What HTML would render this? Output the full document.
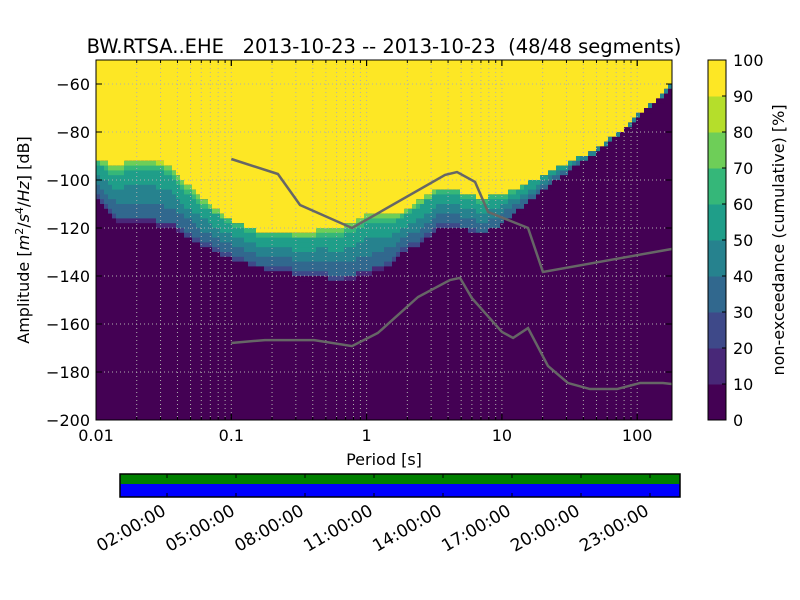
<!DOCTYPE html>
<html><head><meta charset="utf-8"><style>
html,body{margin:0;padding:0;background:#fff;}
svg{display:block;font-family:"DejaVu Sans","Liberation Sans",sans-serif;}
</style></head><body>
<svg id="chart" width="800" height="600" viewBox="0 0 800 600" xmlns="http://www.w3.org/2000/svg">
<text x="384" y="53" font-size="19.5" text-anchor="middle" xml:space="preserve">BW.RTSA..EHE   2013-10-23 -- 2013-10-23  (48/48 segments)</text>
<g id="heat"></g>
<g id="grid"></g>
<g id="lines"></g>
<rect x="96" y="60" width="576" height="360" fill="none" stroke="#000" stroke-width="1"/>
<g id="axes"></g>
<text x="384" y="465" font-size="16" text-anchor="middle">Period [s]</text>
<text transform="translate(29,240) rotate(-90)" font-size="16" text-anchor="middle">Amplitude [<tspan font-style="italic">m</tspan><tspan font-size="11" dy="-6">2</tspan><tspan dy="6">/</tspan><tspan font-style="italic">s</tspan><tspan font-size="11" dy="-6">4</tspan><tspan dy="6">/</tspan><tspan font-style="italic">Hz</tspan>] [dB]</text>
<g id="cbar"></g>
<text transform="translate(784,240) rotate(-90)" font-size="16" text-anchor="middle">non-exceedance (cumulative) [%]</text>
<g id="timeline"></g>
</svg>
<script>
const colPeriods=[0.01,0.0146,0.0211,0.0324,0.0418,0.0587,0.098,0.163,0.322,0.636,0.973,1.49,1.77,2.48,3.49,4.9,6.89,9.68,13.6,19.1,26.9,37.8,53.1,74.6,105,147,169,180];
const colHi=[-92,-94,-91,-93,-98.7,-107,-116.7,-121.7,-122,-119.6,-115,-114,-115,-108,-103,-105,-107.5,-106,-103,-99,-94.5,-90.4,-86,-80,-72,-65.4,-60.4,-59];
const colLo=[-109,-119.6,-119.6,-121.7,-123.7,-129,-134.6,-138.7,-141.7,-143.7,-142.5,-138,-132.5,-129,-122,-122,-124,-121,-114,-107,-101,-94.5,-89.6,-83,-75,-68,-65,-64];
const upPeriods=[0.1,0.221,0.322,0.78,3.8,4.66,6.33,7.9,15.6,20.1,180];
const upDb=[-91.25,-97.5,-110.4,-120,-97.9,-96.7,-100.8,-113.3,-120,-138.3,-128.75];
const lowPeriods=[0.1,0.177,0.41,0.78,1.21,2.4,4.13,4.9,6.0,10,12.1,15.6,21.9,30.8,44.8,71,105,155,180];
const lowDb=[-167.9,-166.7,-166.7,-169.2,-163.75,-148.75,-141.7,-140.8,-149.2,-163.3,-165.8,-161.7,-177.5,-184.6,-187.1,-187.1,-184.6,-184.6,-185];
const yTicks=[-200,-180,-160,-140,-120,-100,-80,-60];
const xTicks=[0.01,0.1,1,10,100];
const xTickLabels=["0.01","0.1","1","10","100"];
const cbTicks=[0,10,20,30,40,50,60,70,80,90,100];
const timeTicks=["02:00:00","05:00:00","08:00:00","11:00:00","14:00:00","17:00:00","20:00:00","23:00:00"];
const timeTickHours=[2,5,8,11,14,17,20,23];
const viridis=["#440154","#482878","#3e4989","#31688e","#26828e","#1f9e89","#35b779","#6ece58","#b5de2b","#fde725"];
const NS="http://www.w3.org/2000/svg";
const X0=96,X1=672,Y0=60,Y1=420;
const xs=p=>X0+(Math.log10(p)+2)*135.3;
const ys=d=>Y0+(-50-d)*2.4;
function mk(tag,attrs,parent){const e=document.createElementNS(NS,tag);for(const k in attrs)e.setAttribute(k,attrs[k]);parent.appendChild(e);return e;}
function pctColor(p){return viridis[Math.min(9,Math.max(0,Math.floor(p/10)))];}
const heat=document.getElementById('heat');
const bg=mk('rect',{x:X0,y:Y0,width:X1-X0,height:Y1-Y0,fill:viridis[0]},heat);


const cx=colPeriods.map(xs);
function interp(x,arr){for(let i=0;i<cx.length-1;i++){if(x<=cx[i+1]){const t=(x-cx[i])/(cx[i+1]-cx[i]);return arr[i]+t*(arr[i+1]-arr[i]);}}return arr[arr.length-1];}
const SW=4,DB=2;
for(let x=X0;x<X1;x+=SW){
  const xc=x+SW/2;
  let hi=interp(xc,colHi),lo=interp(xc,colLo);
  hi=Math.round(hi/DB)*DB;lo=Math.round(lo/DB)*DB;
  const top=mk('rect',{x:x,y:Y0,width:SW+0.5,height:Math.max(0,ys(hi)-Y0),fill:viridis[9]},heat);
  
  
  for(let d=hi-DB;d>=lo;d-=DB){
    const t=(d-lo)/(hi-lo);
    let p;
    if(t<0.12)p=t/0.12*30;else if(t<0.86)p=30+(t-0.12)/0.74*32;else p=62+(t-0.86)/0.14*36;
    const r=mk('rect',{x:x,y:ys(d+DB),width:SW+0.5,height:DB*2.4+0.5,fill:pctColor(p)},heat);
    
    
  }
}
const grid=document.getElementById('grid');
const gx=[];
for(let e=-2;e<=2;e++)for(let m=1;m<10;m++){const v=m*Math.pow(10,e);if(xs(v)>X0+0.5&&xs(v)<X1-0.5)gx.push(v);}
gx.forEach(v=>{const l=mk('line',{x1:xs(v),x2:xs(v),y1:Y0,y2:Y1,stroke:'#b0b0b0','stroke-width':1,'stroke-dasharray':'1,3'},grid);

});
yTicks.forEach(v=>{const l=mk('line',{x1:X0,x2:X1,y1:ys(v),y2:ys(v),stroke:'#b0b0b0','stroke-width':1,'stroke-dasharray':'1,3'},grid);

});
const lines=document.getElementById('lines');
const up=mk('polyline',{points:upPeriods.map((p,i)=>xs(p)+','+ys(upDb[i])).join(' '),fill:'none',stroke:'#666','stroke-width':2.5},lines);


const lw=mk('polyline',{points:lowPeriods.map((p,i)=>xs(p)+','+ys(lowDb[i])).join(' '),fill:'none',stroke:'#666','stroke-width':2.5},lines);


const axes=document.getElementById('axes');
yTicks.forEach(v=>{const y=ys(v);
 mk('line',{x1:X0,x2:X0+6,y1:y,y2:y,stroke:'#000'},axes);mk('line',{x1:X1-6,x2:X1,y1:y,y2:y,stroke:'#000'},axes);
 const t=mk('text',{x:X0-6,y:y+6,'font-size':16,'text-anchor':'end'},axes);t.textContent=String(v).replace('-','\u2212');
 
 });
gx.concat(xTicks).forEach(v=>{const x=xs(v);const major=xTicks.includes(v);const L=major?6:3;
 mk('line',{x1:x,x2:x,y1:Y1-L,y2:Y1,stroke:'#000'},axes);mk('line',{x1:x,x2:x,y1:Y0,y2:Y0+L,stroke:'#000'},axes);});
xTicks.forEach((v,i)=>{const t=mk('text',{x:xs(v),y:Y1+21,'font-size':16,'text-anchor':'middle'},axes);t.textContent=xTickLabels[i];
 
 });
const cb=document.getElementById('cbar');
const CX=708,CW=18;
for(let i=0;i<10;i++){const r=mk('rect',{x:CX,y:Y1-(i+1)*36,width:CW,height:36.5,fill:viridis[i]},cb);
 
 }
mk('rect',{x:CX,y:Y0,width:CW,height:360,fill:'none',stroke:'#000'},cb);
cbTicks.forEach(v=>{const y=Y1-v*3.6;mk('line',{x1:CX+CW-4,x2:CX+CW,y1:y,y2:y,stroke:'#000'},cb);
 const t=mk('text',{x:CX+CW+7,y:y+6,'font-size':16},cb);t.textContent=v;
 
 });
const tl=document.getElementById('timeline');
const g=mk('rect',{x:120,y:474,width:560,height:10,fill:'#008000'},tl);


const b=mk('rect',{x:120,y:484,width:560,height:13,fill:'#0000ff'},tl);


mk('rect',{x:120,y:474,width:560,height:23,fill:'none',stroke:'#000','stroke-width':1.5},tl);
const tx=h=>121+h*23.0;
timeTickHours.forEach((h,i)=>{const x=tx(h);
 mk('line',{x1:x,x2:x,y1:474,y2:478,stroke:'#000'},tl);mk('line',{x1:x,x2:x,y1:493,y2:497,stroke:'#000'},tl);
 const t=mk('text',{x:x,y:514,'font-size':17,'text-anchor':'end',transform:`rotate(-30 ${x} 514)`},tl);t.textContent=timeTicks[i];
 
 });
</script>
</body></html>
